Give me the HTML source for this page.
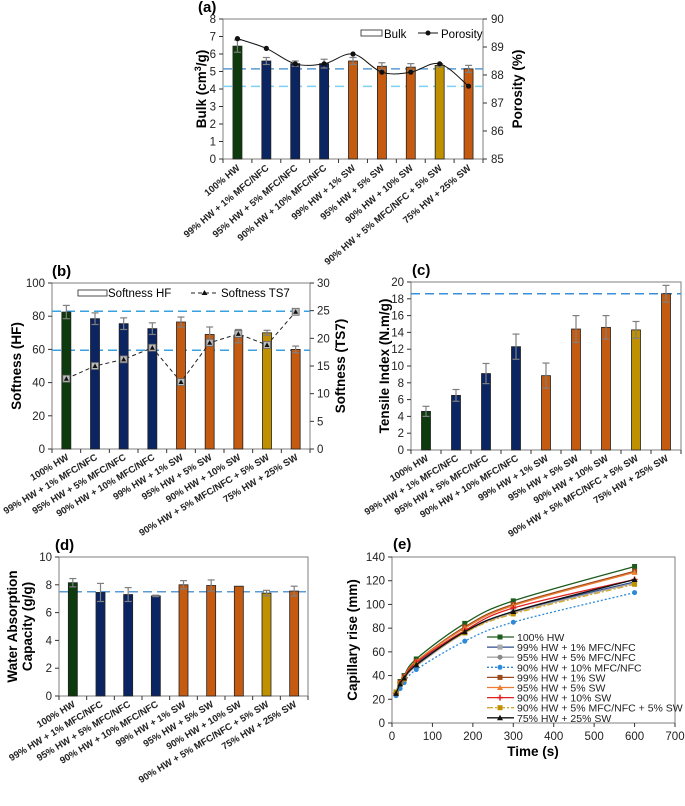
<!DOCTYPE html>
<html><head><meta charset="utf-8"><style>
html,body{margin:0;padding:0;background:#fff;}
svg{display:block;font-family:"Liberation Sans",Arial,sans-serif;}
</style></head><body>
<svg id="fig" width="685" height="806" viewBox="0 0 685 806"></svg>
<script>
const categories=["100% HW","99% HW + 1% MFC/NFC","95% HW + 5% MFC/NFC","90% HW + 10% MFC/NFC","99% HW + 1% SW","95% HW + 5% SW","90% HW + 10% SW","90% HW + 5% MFC/NFC + 5% SW","75% HW + 25% SW"];
const barColors=["#0d3b0d","#0b2462","#0b2462","#0b2462","#c55a11","#c55a11","#c55a11","#bf9000","#c55a11"];
const bulkValues=[6.45,5.6,5.45,5.45,5.6,5.3,5.25,5.35,5.15];
const bulkErr=[0.35,0.2,0.15,0.25,0.2,0.2,0.2,0.1,0.2];
const porosityValues=[89.3,88.95,88.4,88.4,88.75,88.1,88.1,88.4,87.6];
const softHF=[82.5,78.5,75.5,72.5,76.5,69,68,70,60];
const softHFErr=[4,3.5,3.5,3.5,3,4.5,4,1.5,2];
const softTS7=[12.7,15,16.2,18.3,12.1,19.2,20.8,18.8,24.8];
const tensile=[4.6,6.5,9.1,12.3,8.85,14.4,14.6,14.3,18.6];
const tensileErr=[0.6,0.7,1.2,1.5,1.5,1.6,1.4,1.0,1.0];
const wac=[8.15,7.45,7.3,7.2,8.0,7.95,7.9,7.4,7.55];
const wacErr=[0.3,0.65,0.5,0.05,0.3,0.4,0.02,0.2,0.35];
const times=[10,20,30,60,180,300,600];
const capNames=["100% HW","99% HW + 1% MFC/NFC","95% HW + 5% MFC/NFC","90% HW + 10% MFC/NFC","99% HW + 1% SW","95% HW + 5% SW","90% HW + 10% SW","90% HW + 5% MFC/NFC + 5% SW","75% HW + 25% SW"];
const cap0=[26,35,40,54,84,103,132];
const cap1=[25,33,38,50,77,94,119];
const cap2=[25,32,37,48,76,93,118];
const cap3=[23,29,34,45,69,85,110];
const cap4=[26,34,39,52,81,100,128];
const cap5=[26,34,39,52,80,99,127];
const cap6=[25,34,38,51,78,97,121];
const cap7=[26,33,37,49,76,92,117];
const cap8=[25,33,38,49,77,94,121];
const capSeries=[cap0,cap1,cap2,cap3,cap4,cap5,cap6,cap7,cap8];

const NS="http://www.w3.org/2000/svg";
const svg=document.getElementById('fig');
function el(tag,attrs,parent,text){const e=document.createElementNS(NS,tag);for(const k in attrs)e.setAttribute(k,attrs[k]);if(text!==undefined)e.textContent=text;(parent||svg).appendChild(e);return e;}
function grp(name){const g=el('g',{});return g;}

function smoothPath(pts){let d="M"+pts[0][0]+","+pts[0][1];for(let i=0;i<pts.length-1;i++){const p0=pts[i-1]||pts[i],p1=pts[i],p2=pts[i+1],p3=pts[i+2]||p2;const t=0.17;const c1=[p1[0]+(p2[0]-p0[0])*t,p1[1]+(p2[1]-p0[1])*t];const c2=[p2[0]-(p3[0]-p1[0])*t,p2[1]-(p3[1]-p1[1])*t];d+=" C"+c1[0]+","+c1[1]+" "+c2[0]+","+c2[1]+" "+p2[0]+","+p2[1];}return d;}

function barPanel(o){
  const g=grp(o.name);
  const {x0,x1,yTop,yBot,ymax,values,errs}=o;
  const ys=v=>yBot-(v/ymax)*(yBot-yTop);
  const step=(x1-x0)/categories.length;
  const xs=i=>x0+step*(i+0.5);
  const frame=el('rect',{x:x0,y:yTop,width:x1-x0,height:yBot-yTop,fill:'none',stroke:'#7f7f7f','stroke-width':1},g);
  
  for(let v=0;v<=ymax+1e-9;v+=o.ystep){
    const y=ys(v);
    el('line',{x1:x0-4,x2:x0,y1:y,y2:y,stroke:'#333'},g);
    const t=el('text',{x:x0-7,y:y+4,'text-anchor':'end','font-size':11.5,fill:'#222'},g,String(v));
    
  }
  for(let i=0;i<=categories.length;i++){el('line',{x1:x0+step*i,x2:x0+step*i,y1:yBot,y2:yBot+4,stroke:'#333'},g);}
  (o.refs||[]).forEach(r=>{const l=el('line',{x1:x0,x2:x1,y1:ys(r.v),y2:ys(r.v),stroke:r.c,'stroke-width':1.5,'stroke-dasharray':'9,5'},g);});
  values.forEach((v,i)=>{
    const bw=o.bw||9;
    const b=el('rect',{x:xs(i)-bw/2,y:ys(v),width:bw,height:yBot-ys(v),fill:barColors[i],stroke:'#222','stroke-width':0.8},g);
    
    const e=errs[i];
    if(e>0.03){
      const eg=el('g',{stroke:'#7f7f7f','stroke-width':1.2},g);
      
      el('line',{x1:xs(i),x2:xs(i),y1:ys(v+e),y2:ys(v-e)},eg);
      el('line',{x1:xs(i)-3.5,x2:xs(i)+3.5,y1:ys(v+e),y2:ys(v+e)},eg);
      el('line',{x1:xs(i)-3.5,x2:xs(i)+3.5,y1:ys(v-e),y2:ys(v-e)},eg);
    }
  });
  const ang=o.angle||31;
  categories.forEach((c,i)=>{
    const tx=xs(i)+3,ty=yBot+10;
    const t=el('text',{x:tx,y:ty,'text-anchor':'end','font-size':9.5,'font-weight':'bold',fill:'#222',transform:`rotate(-${ang} ${tx} ${ty})`},g,c);
    
  });
  const yt=el('text',{x:o.ytx,y:(yTop+yBot)/2,'text-anchor':'middle','font-size':13.5,'font-weight':'bold',transform:`rotate(-90 ${o.ytx} ${(yTop+yBot)/2})`},g);
  
  if(o.ytitleHTML){yt.innerHTML=o.ytitleHTML;}else yt.textContent=o.ytitle;
  if(o.ytitle2){const y2=el('text',{x:o.ytx+15,y:(yTop+yBot)/2,'text-anchor':'middle','font-size':13.5,'font-weight':'bold',transform:`rotate(-90 ${o.ytx+15} ${(yTop+yBot)/2})`},g,o.ytitle2);}
  const pl=el('text',{x:o.plx,y:yTop-7,'font-size':15,'font-weight':'bold'},g,o.label);
  
  return {g,xs,ys,step};
}

const A=barPanel({name:'panel-a-bulk-chart',x0:223,x1:483,yTop:19,yBot:159,ymax:8,ystep:1,values:bulkValues,errs:bulkErr,angle:40,
  refs:[{v:5.15,c:'#5b9bd5'},{v:4.15,c:'#7fd0f5'}],ytitleHTML:'Bulk (cm<tspan font-size="9" dy="-5">3</tspan><tspan dy="5">/g)</tspan>',ytx:206,plx:198,label:'(a)'});
(function(){const g=A.g;const yp=v=>159-(v-85)/5*140;
  for(let v=85;v<=90;v++){el('line',{x1:483,x2:487,y1:yp(v),y2:yp(v),stroke:'#333'},g);el('text',{x:491,y:yp(v)+4,'font-size':11.5,fill:'#222'},g,String(v));}
  const pts=porosityValues.map((v,i)=>[A.xs(i),yp(v)]);
  const p=el('path',{d:smoothPath(pts),fill:'none',stroke:'#111','stroke-width':1},g);
  pts.forEach(q=>{const c=el('circle',{cx:q[0],cy:q[1],r:2.6,fill:'#111'},g);});
  const t=el('text',{x:522,y:89,'text-anchor':'middle','font-size':13.5,'font-weight':'bold',transform:'rotate(-90 522 89)'},g,'Porosity (%)');
  const lg=el('g',{},g);
  el('rect',{x:361,y:30,width:21,height:6,fill:'#fff',stroke:'#222','stroke-width':0.8},lg);
  el('text',{x:384,y:38,'font-size':11.5},lg,'Bulk');
  el('line',{x1:418,x2:438,y1:33,y2:33,stroke:'#111'},lg);el('circle',{cx:428,cy:33,r:2.5,fill:'#111'},lg);
  el('text',{x:441,y:38,'font-size':11.5},lg,'Porosity');
})();

const B=barPanel({name:'panel-b-softness-chart',x0:52,x1:310,yTop:283,yBot:449,ymax:100,ystep:20,values:softHF,errs:softHFErr,
  refs:[{v:83,c:'#3aa0e0'},{v:59.5,c:'#3aa0e0'}],ytitle:'Softness (HF)',ytx:21,plx:52,label:'(b)'});
(function(){const g=B.g;const yp=v=>449-v/30*166;
  for(let v=0;v<=30;v+=5){el('line',{x1:310,x2:314,y1:yp(v),y2:yp(v),stroke:'#333'},g);el('text',{x:317,y:yp(v)+4,'font-size':11.5,fill:'#222'},g,String(v));}
  const pts=softTS7.map((v,i)=>[B.xs(i),yp(v)]);
  const p=el('path',{d:'M'+pts.map(q=>q.join(',')).join(' L'),fill:'none',stroke:'#222','stroke-width':1,'stroke-dasharray':'4,3'},g);
  pts.forEach(q=>{const m=el('g',{},g);
    el('rect',{x:q[0]-3.5,y:q[1]-3.5,width:7,height:7,fill:'#bbb',stroke:'#666','stroke-width':0.8},m);
    el('path',{d:`M${q[0]-2.5},${q[1]+2} L${q[0]+2.5},${q[1]+2} L${q[0]},${q[1]-2.5}Z`,fill:'#111'},m);});
  const t=el('text',{x:345,y:366,'text-anchor':'middle','font-size':13.5,'font-weight':'bold',transform:'rotate(-90 345 366)'},g,'Softness (TS7)');
  const lg=el('g',{},g);
  el('rect',{x:78,y:290,width:29,height:6,fill:'#fff',stroke:'#222','stroke-width':0.8},lg);
  el('text',{x:108,y:297,'font-size':11.5},lg,'Softness HF');
  el('line',{x1:191,x2:218,y1:293,y2:293,stroke:'#222','stroke-dasharray':'4,3'},lg);
  el('path',{d:'M201.5,295 L207.5,295 L204.5,290Z',fill:'#111'},lg);
  el('text',{x:221,y:297,'font-size':11.5},lg,'Softness TS7');
})();

barPanel({name:'panel-c-tensile-chart',x0:411,x1:681,yTop:282,yBot:450,ymax:20,ystep:2,values:tensile,errs:tensileErr,
  refs:[{v:18.6,c:'#3a8fd8'}],ytitle:'Tensile Index (N.m/g)',ytx:389,plx:412,label:'(c)'});

barPanel({name:'panel-d-water-absorption-chart',x0:59,x1:308,yTop:557,yBot:696,ymax:10,ystep:2,values:wac,errs:wacErr,
  refs:[{v:7.5,c:'#5b9bd5'}],ytitle:'Water Absorption',ytitle2:'Capacity (g/g)',ytx:17,plx:55,label:'(d)'});

(function(){const g=grp('panel-e-capillary-chart');
  const x0=392,x1=675,yTop=557,yBot=723;
  const xs=t=>x0+t/700*(x1-x0), ys=v=>yBot-v/140*(yBot-yTop);
  el('rect',{x:x0,y:yTop,width:x1-x0,height:yBot-yTop,fill:'none',stroke:'#7f7f7f'},g);
  for(let v=0;v<=140;v+=20){el('line',{x1:x0-4,x2:x0,y1:ys(v),y2:ys(v),stroke:'#333'},g);el('text',{x:x0-7,y:ys(v)+4,'text-anchor':'end','font-size':11.5,fill:'#222'},g,String(v));}
  for(let t=0;t<=700;t+=100){el('line',{x1:xs(t),x2:xs(t),y1:yBot,y2:yBot+4,stroke:'#333'},g);el('text',{x:xs(t),y:yBot+17,'text-anchor':'middle','font-size':11.5,fill:'#222'},g,String(t));}
  const styles=[
    {c:'#1e5c1e',m:'sq',mc:'#1e5c1e',d:''},{c:'#2f4f8f',m:'sq',mc:'#aaa',d:''},{c:'#a6a6a6',m:'ci',mc:'#888',d:''},
    {c:'#2e8ad8',m:'ci',mc:'#2e8ad8',d:'2,2'},{c:'#9c4a1a',m:'sq',mc:'#9c4a1a',d:''},{c:'#ed7d31',m:'tr',mc:'#ed7d31',d:''},
    {c:'#e02020',m:'pl',mc:'#e02020',d:''},{c:'#d4a72c',m:'sq',mc:'#bf9000',d:'6,2,2,2'},{c:'#111',m:'tr',mc:'#111',d:''}];
  function marker(p,x,y,s){if(s.m==='sq')el('rect',{x:x-2.5,y:y-2.5,width:5,height:5,fill:s.mc},p);
    else if(s.m==='ci')el('circle',{cx:x,cy:y,r:2.5,fill:s.mc},p);
    else if(s.m==='tr')el('path',{d:`M${x-3},${y+2.5} L${x+3},${y+2.5} L${x},${y-3}Z`,fill:s.mc},p);
    else el('path',{d:`M${x-3},${y} L${x+3},${y} M${x},${y-3} L${x},${y+3}`,stroke:s.mc,'stroke-width':1.5},p);}
  capSeries.forEach((ser,k)=>{const s=styles[k];const sg=el('g',{},g);
    
    const pts=ser.map((v,i)=>[xs(times[i]),ys(v)]);
    el('path',{d:smoothPath(pts),fill:'none',stroke:s.c,'stroke-width':1.3,'stroke-dasharray':s.d},sg);
    pts.forEach(q=>marker(sg,q[0],q[1],s));});
  const lg=el('g',{},g);
  capNames.forEach((n,k)=>{const y=637+k*10.1;const s=styles[k];
    el('line',{x1:487,x2:514,y1:y,y2:y,stroke:s.c,'stroke-width':1.3,'stroke-dasharray':s.d},lg);marker(lg,500,y,s);
    el('text',{x:517,y:y+4,'font-size':10.5,fill:'#222'},lg,n);});
  const xt=el('text',{x:533,y:756,'text-anchor':'middle','font-size':13.5,'font-weight':'bold'},g,'Time (s)');
  const yt=el('text',{x:357,y:640,'text-anchor':'middle','font-size':13.5,'font-weight':'bold',transform:'rotate(-90 357 640)'},g,'Capillary rise (mm)');
  const pl=el('text',{x:393,y:549,'font-size':15,'font-weight':'bold'},g,'(e)');
})();
</script>
</body></html>
